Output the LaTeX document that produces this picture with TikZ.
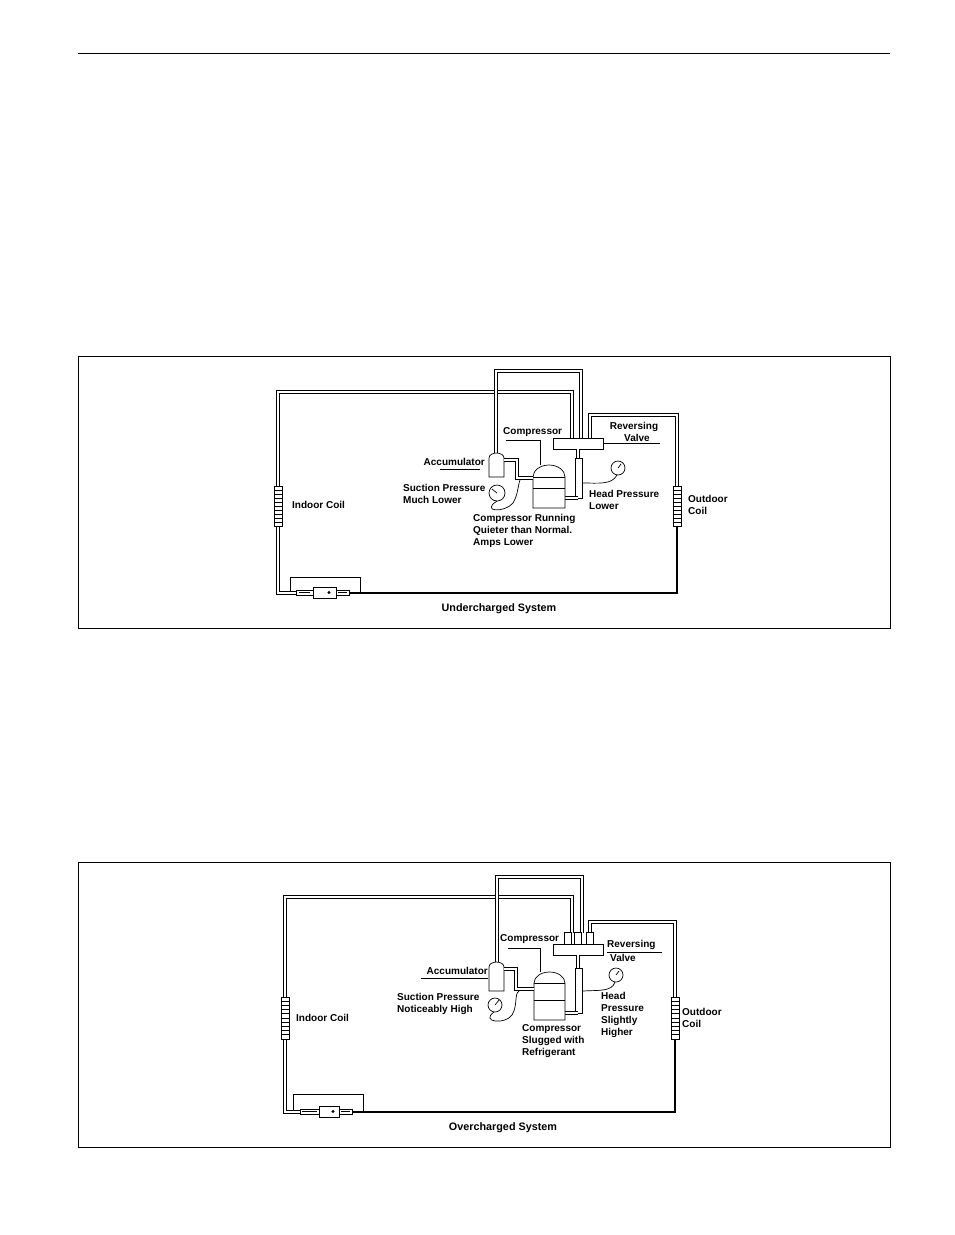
\documentclass[tikz,border=0pt]{standalone}
\usepackage{fontspec}
\setmainfont{Liberation Sans}
\begin{document}
\begin{tikzpicture}[x=1pt,y=-1pt,
  pipe/.style={draw=black,line width=3.2pt,line join=miter,postaction={draw=white,line width=1.6pt}},
  thk/.style={line width=1.6pt},
  thin/.style={line width=0.7pt},
  lbl/.style={font=\bfseries\fontsize{10}{12}\selectfont,inner sep=0pt,align=left},
  lblc/.style={font=\bfseries\fontsize{10.8}{13}\selectfont,inner sep=0pt,align=center}]
\useasboundingbox (0,0) rectangle (954,1235);
\draw[line width=0.9pt] (78,53) -- (890,53);
% ================= TOP =================
\draw[line width=1pt] (78,356) rectangle (890,628);
\draw[pipe] (278,486) -- (278,392) -- (572,392) -- (572,438);
\draw[pipe] (278,526) -- (278,593) -- (296,593);
\draw[pipe] (496,453) -- (496,371) -- (581,371) -- (581,438);
\draw[pipe] (677,486) -- (677,415) -- (590,415) -- (590,438);
\draw[thk] (677,526) -- (677,593) -- (348,593);
\foreach \cx/\cy in {278/486,677/486}{
  \draw[thin,fill=white] (\cx-4,\cy) rectangle (\cx+4,\cy+40);
  \foreach \k in {1,...,9} \draw[line width=0.9pt] (\cx-4,\cy+4*\k) -- (\cx+4,\cy+4*\k);}
\draw[thin] (296,591) -- (290,591) -- (290,577) -- (360,577) -- (360,592);
\draw[thin,fill=white] (296,590) rectangle (313,595);
\draw[line width=1.5pt] (299,592.5) -- (310,592.5);
\draw[thin,fill=white] (313,587) rectangle (336,598);
\fill (329,592.5) circle (1.6);
\draw[thin,fill=white] (336,590) rectangle (349,595);
\draw[line width=1.5pt] (338,592.5) -- (347,592.5);
\draw[thin,fill=white] (553,438) rectangle (603,449);
\draw[thin] (603,443) -- (660,443);
\node[lbl,align=center] (rv1) at (634,432) {Reversing\\\hspace*{6pt}Valve};
\draw[pipe] (578,449) -- (578,458);
\draw[thin,fill=white] (575,458) rectangle (582,498);
\draw[pipe] (578,498) -- (565,498);
\draw[thin,fill=white] (533,508) -- (533,477) arc[start angle=180,end angle=360,x radius=16,y radius=12] -- (565,508) -- cycle;
\draw[thin] (533,477) -- (565,477);
\draw[thin] (533,488) -- (565,488);
\node[lbl,anchor=west] (comp) at (503,432) {Compressor};
\draw[thin] (506,440) -- (540,440) -- (540,465);
\draw[thin,fill=white] (489,477) -- (489,458) arc[start angle=180,end angle=360,x radius=7.5,y radius=5] -- (504,477) -- cycle;
\draw[pipe] (504,460) -- (517,460) -- (517,478) -- (533,478);
\node[lbl,anchor=east] (acc) at (485,462) {Accumulator};
\draw[thin] (440,469) -- (480,469);
\draw[thin] (497,493) circle (8);
\draw[thin] (497,493) -- (492,489);
\draw[thin] (497,501) .. controls (480,512) and (505,513) .. (513,503) .. controls (518,495) and (518,485) .. (520,480);
\draw[thin] (618,468) circle (7);
\draw[thin] (618,468) -- (621,464);
\draw[thin] (617,475) .. controls (612,485) and (598,483) .. (583,483);
\node[lbl,anchor=west] (sp) at (403,494) {Suction Pressure\\Much Lower};
\node[lbl,anchor=west] (ic) at (292,505) {Indoor Coil};
\node[lbl,anchor=north west] (cr) at (473,514) {Compressor Running\\Quieter than Normal.\\Amps Lower};
\node[lbl,anchor=west] (hp) at (589,500) {Head Pressure\\Lower};
\node[lbl,anchor=west] (oc) at (688,505) {Outdoor\\Coil};
\node[lblc] (t1) at (499,609) {Undercharged System};
% ================= BOTTOM =================
\draw[line width=1pt] (78,862) rectangle (890,1147);
\draw[pipe] (285,997) -- (285,897) -- (572,897) -- (572,933);
\draw[pipe] (285,1039) -- (285,1112) -- (300,1112);
\draw[pipe] (497,962) -- (497,877) -- (582,877) -- (582,933);
\draw[pipe] (675,997) -- (675,922) -- (590,922) -- (590,933);
\draw[thk] (675,1038) -- (675,1112) -- (350,1112);
\foreach \cx/\cy in {285/997,675/997}{
  \draw[thin,fill=white] (\cx-4,\cy) rectangle (\cx+4,\cy+42);
  \foreach \k in {1,...,9} \draw[line width=0.9pt] (\cx-4,\cy+4.2*\k) -- (\cx+4,\cy+4.2*\k);}
\foreach \sx in {568,578,590} \draw[thin,fill=white] (\sx-3.5,932) rectangle (\sx+3.5,944);
\draw[thin] (300,1110) -- (293,1110) -- (293,1094) -- (363,1094) -- (363,1111);
\draw[thin,fill=white] (300,1109) rectangle (319,1114);
\draw[line width=1.5pt] (302,1111.5) -- (317,1111.5);
\draw[thin,fill=white] (319,1106) rectangle (339,1117);
\fill (333,1111.5) circle (1.6);
\draw[thin,fill=white] (339,1109) rectangle (352,1114);
\draw[line width=1.5pt] (341,1111.5) -- (350,1111.5);
\draw[thin,fill=white] (553,944) rectangle (603,955);
\draw[thin] (607,952) -- (662,952);
\node[lbl,anchor=west] (rv2) at (607,945) {Reversing};
\node[lbl,anchor=west] (rv3) at (610,958) {Valve};
\draw[pipe] (578,955) -- (578,968);
\draw[thin,fill=white] (575,968) rectangle (582,1013);
\draw[pipe] (578,1013) -- (565,1013);
\draw[thin,fill=white] (534,1020) -- (534,983) arc[start angle=180,end angle=360,x radius=15.5,y radius=11] -- (565,1020) -- cycle;
\draw[thin] (534,983) -- (565,983);
\draw[thin] (534,1000) -- (565,1000);
\node[lbl,anchor=west] (comp2) at (500,939) {Compressor};
\draw[thin] (508,948) -- (540,948) -- (540,972);
\draw[thin,fill=white] (489,991) -- (489,967) arc[start angle=180,end angle=360,x radius=7.5,y radius=5] -- (504,991) -- cycle;
\draw[pipe] (504,969) -- (516,969) -- (516,989) -- (534,989);
\node[lbl,anchor=east] (acc2) at (488,971) {Accumulator};
\draw[thin] (421,978) -- (488,978);
\draw[thin] (495,1005) circle (7);
\draw[thin] (495,1005) -- (499,1000);
\draw[thin] (494,1012) .. controls (480,1022) and (505,1025) .. (512,1015) .. controls (518,1005) and (514,994) .. (519,991);
\draw[thin] (616,975) circle (7);
\draw[thin] (616,975) -- (619,971);
\draw[thin] (615,982) .. controls (612,992) and (598,990) .. (583,991);
\node[lbl,anchor=west] (sp2) at (397,1004) {Suction Pressure\\Noticeably High};
\node[lbl,anchor=west] (ic2) at (296,1018) {Indoor Coil};
\node[lbl,anchor=north west] (cs) at (522,1024) {Compressor\\Slugged with\\Refrigerant};
\node[lbl,anchor=north west] (hp2) at (601,992) {Head\\Pressure\\Slightly\\Higher};
\node[lbl,anchor=west] (oc2) at (682,1018) {Outdoor\\Coil};
\node[lblc] (t2) at (503,1128) {Overcharged System};
\end{tikzpicture}
\end{document}
